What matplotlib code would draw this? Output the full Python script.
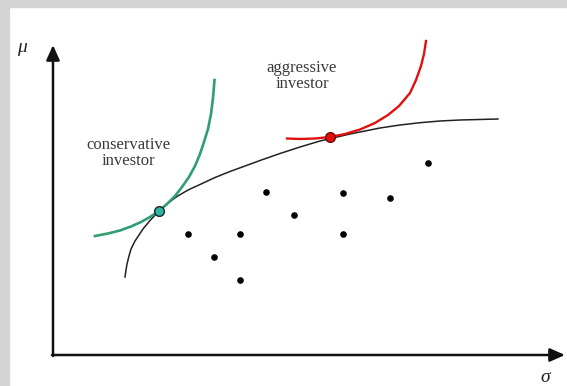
import matplotlib.pyplot as plt
from matplotlib.patches import Rectangle

# efficient frontier (sigma, mu)
frontier_sigma = [72, 73, 74, 76, 78, 82, 86, 90, 97, 106, 115, 124, 135, 147, 162, 177,
                  192, 207, 227, 247, 267, 297, 327, 347, 367, 387, 407, 445]
frontier_mu = [78, 85, 91, 99, 106, 114, 120, 126, 134.5, 144, 152, 158.5, 165, 170.5, 177.5,
               183.5, 189, 194.5, 201.5, 208, 214, 221, 227, 230, 232.3, 234, 235, 236]

# conservative investor indifference curve
green_sigma = [42, 55, 67, 78, 88, 97, 106, 114, 122, 129, 136, 142, 147, 151, 155, 158, 160,
               161.5]
green_mu = [119, 121.5, 124.5, 128.5, 133, 138, 144, 151, 159, 168, 178, 189, 201, 213, 226,
            241, 257, 275]

# aggressive investor indifference curve
red_sigma = [234, 247, 262, 277, 292, 307, 322, 335, 346, 357, 363, 368, 371, 373]
red_mu = [216.5, 216, 216.5, 218, 221, 225.5, 232, 240, 249, 262, 275, 289, 301, 314]

# tangency points
green_point = (106, 144)
red_point = (277, 218)

# individual assets
asset_sigma = [135, 161, 187, 187, 213, 241, 290, 290, 337, 375]
asset_mu = [121, 98, 121, 75, 163, 140, 162, 121, 157, 192]


def main():
    fig = plt.figure(figsize=(5.67, 3.86), dpi=100)
    fig.patch.set_facecolor("white")

    # grey strips of the page behind the picture
    fig.patches.append(Rectangle((0, 1 - 7 / 386), 1, 7 / 386, transform=fig.transFigure,
                                 color="#d4d4d4", zorder=0))
    fig.patches.append(Rectangle((0, 0), 9 / 567, 1, transform=fig.transFigure,
                                 color="#d4d4d4", zorder=0))

    ax = fig.add_axes([0, 0, 1, 1])
    ax.set_xlim(-53, 514)
    ax.set_ylim(-31, 355)
    ax.axis("off")

    arrow = dict(arrowstyle="-|>,head_length=0.9,head_width=0.4", lw=1.8,
                 color="#111111", shrinkA=0, shrinkB=0)
    ax.annotate("", xy=(0, 310), xytext=(0, -1), arrowprops=arrow)
    ax.annotate("", xy=(512, 0), xytext=(-1, 0), arrowprops=arrow)

    ax.plot(frontier_sigma, frontier_mu, color="#222222", lw=1.1, solid_joinstyle="round")
    ax.plot(green_sigma, green_mu, color="#2f9f72", lw=1.9, solid_joinstyle="round")
    ax.plot(red_sigma, red_mu, color="#e01010", lw=1.7, solid_joinstyle="round")

    ax.scatter(asset_sigma, asset_mu, s=14, color="black", zorder=3)

    ax.plot(*green_point, "o", ms=7, mfc="#2ab5a5", mec="#222222", mew=1.0, zorder=4)
    ax.plot(*red_point, "o", ms=7, mfc="#e01010", mec="#7a0000", mew=1.0, zorder=4)

    serif = "Liberation Serif"
    ax.text(75, 202, "conservative\ninvestor", ha="center", va="center", fontsize=12,
            family=serif, color="#3a3a3a", linespacing=1.0)
    ax.text(249, 279, "aggressive\ninvestor", ha="center", va="center", fontsize=12,
            family=serif, color="#3a3a3a", linespacing=1.0)

    ax.text(-31, 308, "\u03bc", ha="center", va="center", fontsize=14, family=serif,
            style="italic", color="#222222")
    ax.text(492, -22, "\u03c3", ha="center", va="center", fontsize=14, family=serif,
            style="italic", color="#222222")

    fig.savefig("out.png", dpi=100)
    plt.close(fig)


if __name__ == "__main__":
    main()
